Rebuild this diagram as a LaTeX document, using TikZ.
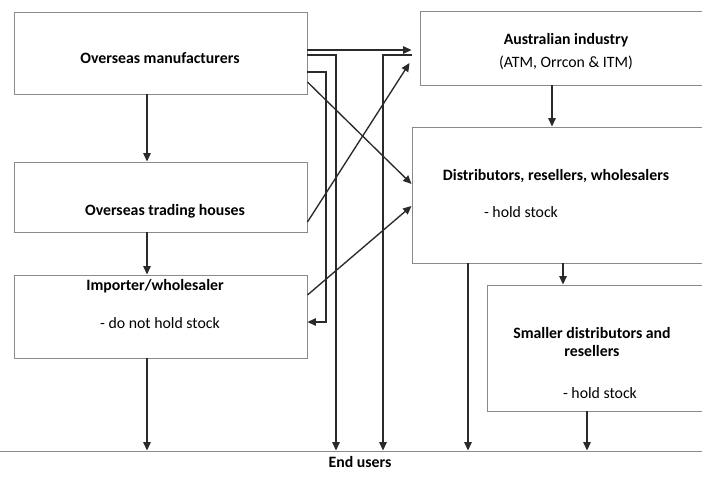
\documentclass[tikz,border=0pt]{standalone}
\usepackage{fontspec}
\setmainfont{Carlito}
\usepackage{xcolor}
\definecolor{ChainFrame}{HTML}{8A8A8A}
\definecolor{ChainFlow}{HTML}{2A2A2A}
\usetikzlibrary{arrows.meta,calc}

\begin{document}
\begin{tikzpicture}[
  x=1pt,y=-1pt,
  box/.style={draw=ChainFrame,line width=0.9pt,inner sep=0pt},
  head/.style={font=\fontsize{15.8}{18}\selectfont\bfseries,inner sep=0pt},
  note/.style={font=\fontsize{15.8}{18}\selectfont,inner sep=0pt},
  flow/.style={-{Triangle[length=8.5pt,width=7.5pt]},draw=ChainFlow,line width=1.35pt}
]
\useasboundingbox (0,0) rectangle (702,477);
\clip (0,0) rectangle (702,477);
% boxes
\node[box,minimum width=293pt,minimum height=82pt] (om) at (160.5,53) {};
\node[box,minimum width=293pt,minimum height=70pt] (oth) at (160.5,197) {};
\node[box,minimum width=293pt,minimum height=83pt] (imp) at (160.5,316.5) {};
\node[box,minimum width=290pt,minimum height=74pt] (ai) at (565,48) {};
\node[box,minimum width=298pt,minimum height=136pt] (dis) at (561,195) {};
\node[box,minimum width=223pt,minimum height=126pt] (sml) at (598.5,348) {};
\node[box,minimum width=715pt,minimum height=60pt] (eu) at (352.5,481) {};
% texts
\node[head] (omT) at (160,58) {Overseas manufacturers};
\node[head] (othT) at (165,211) {Overseas trading houses};
\node[head] (impT) at (155,286) {Importer/wholesaler};
\node[note] (impN) at (160,323) {- do not hold stock};
\node[head] (aiT) at (566,40) {Australian industry};
\node[note] (aiN) at (566,63) {(ATM, Orrcon \& ITM)};
\node[head] (disT) at (556,176) {Distributors, resellers, wholesalers};
\node[note] (disN) at (521,212) {- hold stock};
\node[head,align=center] (smlT) at (592,342) {Smaller distributors and\\resellers};
\node[note] (smlN) at (600,393) {- hold stock};
\node[head] (euT) at (360,462) {End users};
% free ends in front of the industry box
\coordinate (aiIn) at ($(ai.west)+(-8,0)$);
% connectors
\draw[flow] (om.south -| 147,0) -- (oth.north -| 147,0);
\draw[flow] (oth.south -| 147,0) -- (imp.north -| 147,0);
\draw[flow] (imp.south -| 147,0) -- (eu.north -| 147,0);
\draw[flow] (om.east |- 0,50) -- (aiIn |- 0,50);
\draw[flow] (om.east |- 0,55) -| (eu.north -| 336,0);
\draw[flow] (aiIn |- 0,55) -| (eu.north -| 383,0);
\draw[flow] (om.east |- 0,72) -- (326,72) |- (imp.east |- 0,322);
\draw[flow] (om.east |- 0,82) -- (dis.west |- 0,184);
\draw[flow] (oth.east |- 0,222) -- ($(ai.west |- 0,63)+(-10,0)$);
\draw[flow] (imp.east |- 0,295) -- (dis.west |- 0,206);
\draw[flow] (ai.south -| 552,0) -- (dis.north -| 552,0);
\draw[flow] (dis.south -| 563,0) -- (sml.north -| 563,0);
\draw[flow] (dis.south -| 468,0) -- (eu.north -| 468,0);
\draw[flow] (sml.south -| 587,0) -- (eu.north -| 587,0);
\end{tikzpicture}
\end{document}
